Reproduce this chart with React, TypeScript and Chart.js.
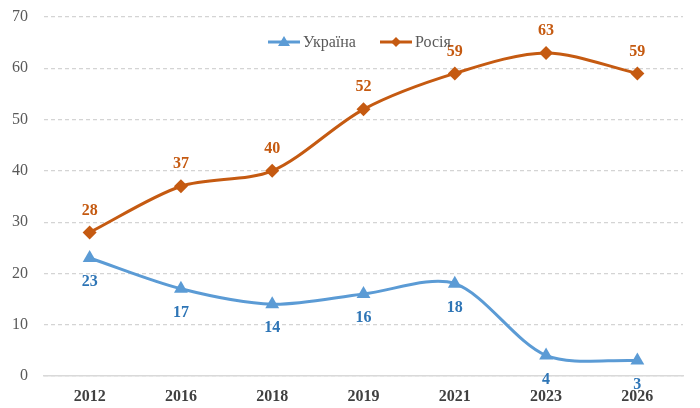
import React, { useEffect, useRef } from "react";
import { Chart, registerables } from "chart.js";

Chart.register(...registerables);

const years = ["2012", "2016", "2018", "2019", "2021", "2023", "2026"];
const ukraine = [23, 17, 14, 16, 18, 4, 3];
const russia = [28, 37, 40, 52, 59, 63, 59];
const yTicks = [0, 10, 20, 30, 40, 50, 60, 70];
const seriesNames = ["Україна", "Росія"];

const BLUE = "#5B9BD5";
const BLUE_TEXT = "#2E75B6";
const ORANGE = "#C55A11";
const FONT = "'Liberation Serif', 'Times New Roman', serif";

const labelsPlugin = {
  id: "customLabels",
  afterDatasetsDraw(chart: any) {
    const ctx = chart.ctx;
    ctx.save();
    ctx.font = `bold 16px ${FONT}`;
    ctx.textAlign = "center";
    ctx.textBaseline = "middle";
    chart.data.datasets.forEach((ds: any, i: number) => {
      const meta = chart.getDatasetMeta(i);
      meta.data.forEach((pt: any, j: number) => {
        const v = ds.data[j];
        if (i === 0) {
          ctx.fillStyle = BLUE_TEXT;
          ctx.fillText(String(v), pt.x, pt.y + 24);
        } else {
          ctx.fillStyle = ORANGE;
          ctx.fillText(String(v), pt.x, pt.y - 22);
        }
      });
    });
    ctx.restore();
  },
  afterDraw(chart: any) {
    const ctx = chart.ctx;
    ctx.save();
    const y = 42;
    const items = [
      { x: 268, color: BLUE, style: "triangle", text: seriesNames[0] },
      { x: 380, color: ORANGE, style: "rectRot", text: seriesNames[1] },
    ];
    items.forEach((it) => {
      ctx.strokeStyle = it.color;
      ctx.lineWidth = 3;
      ctx.beginPath();
      ctx.moveTo(it.x, y);
      ctx.lineTo(it.x + 32, y);
      ctx.stroke();
      ctx.fillStyle = it.color;
      ctx.beginPath();
      const cx = it.x + 16;
      if (it.style === "triangle") {
        ctx.moveTo(cx, y - 6);
        ctx.lineTo(cx + 6, y + 4);
        ctx.lineTo(cx - 6, y + 4);
      } else {
        ctx.moveTo(cx, y - 5);
        ctx.lineTo(cx + 5, y);
        ctx.lineTo(cx, y + 5);
        ctx.lineTo(cx - 5, y);
      }
      ctx.closePath();
      ctx.fill();
      ctx.fillStyle = "#595959";
      ctx.font = `16px ${FONT}`;
      ctx.textAlign = "left";
      ctx.textBaseline = "middle";
      ctx.fillText(it.text, it.x + 35, y + 1);
    });
    ctx.restore();
  },
};

export default function App() {
  const ref = useRef<HTMLCanvasElement>(null);
  useEffect(() => {
    document.body.style.margin = "0";
    const chart = new Chart(ref.current!, {
      type: "line",
      data: {
        labels: years,
        datasets: [
          {
            label: seriesNames[0],
            data: ukraine,
            borderColor: BLUE,
            backgroundColor: BLUE,
            borderWidth: 3,
            tension: 0.3,
            pointStyle: "triangle",
            pointRadius: 8,
            pointBorderWidth: 0,
          },
          {
            label: seriesNames[1],
            data: russia,
            borderColor: ORANGE,
            backgroundColor: ORANGE,
            borderWidth: 3,
            tension: 0.3,
            pointStyle: "rectRot",
            pointRadius: 7,
            pointBorderWidth: 0,
          },
        ],
      },
      options: {
        animation: false,
        responsive: false,
        maintainAspectRatio: false,
        layout: { padding: { top: 17, right: 17, left: 0, bottom: 0 } },
        plugins: { legend: { display: false }, tooltip: { enabled: false } },
        scales: {
          x: {
            offset: true,
            grid: { display: false, drawTicks: false },
            border: { display: true, color: "#D9D9D9", width: 1.5 },
            ticks: {
              color: "#404040",
              font: { family: FONT, size: 16, weight: "bold" },
              padding: 11,
            },
            afterFit(scale: any) {
              scale.height = 32;
            },
          },
          y: {
            min: 0,
            max: 70,
            afterBuildTicks(scale: any) {
              scale.ticks = yTicks.map((v) => ({ value: v }));
            },
            grid: {
              color: "#D4D4D4",
              lineWidth: 1.2,
              drawTicks: false,
            },
            border: { display: false, dash: [4, 3] },
            ticks: {
              color: "#595959",
              font: { family: FONT, size: 16 },
              padding: 16,
            },
            afterFit(scale: any) {
              scale.width = 44;
              scale.paddingTop = 0;
              scale.paddingBottom = 0;
            },
          },
        },
      } as any,
      plugins: [labelsPlugin],
    });
    return () => chart.destroy();
  }, []);
  return (
    <div style={{ width: 700, height: 408 }}>
      <canvas ref={ref} width={700} height={408} style={{ width: 700, height: 408 }} />
    </div>
  );
}
